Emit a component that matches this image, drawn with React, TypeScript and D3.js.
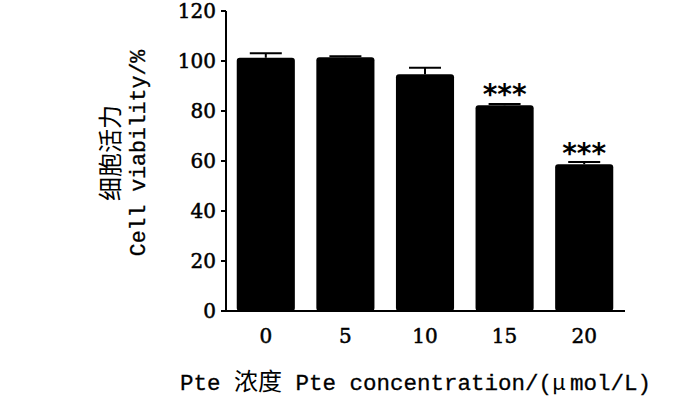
import { useMemo } from "react";
import * as d3 from "d3";

const WIDTH = 700;
const HEIGHT = 399;

const concentrations = ["0", "5", "10", "15", "20"];
const viability = [101.3, 101.5, 94.7, 82.3, 58.7];
const errors = [1.8, 0.4, 2.6, 0.5, 0.9];
const significance = ["", "", "", "***", "***"];
const yTicks = [0, 20, 40, 60, 80, 100, 120];

const MONO = "'Liberation Mono', 'DejaVu Sans Mono', monospace";
const SERIF = "'DejaVu Serif', serif";
const CJK = "'Noto Sans CJK SC', sans-serif";

const App = () => {
  const xScale = useMemo(
    () => d3.scaleBand().domain(concentrations).range([226, 624]).paddingInner(0.27).paddingOuter(0.135),
    []
  );
  const yScale = useMemo(() => d3.scaleLinear().domain([0, 120]).range([311, 11]), []);

  const bw = xScale.bandwidth();
  const capW = 32;

  return (
    <svg width={WIDTH} height={HEIGHT} style={{ position: "absolute", left: 0, top: 0 }}>
      <rect width={WIDTH} height={HEIGHT} fill="white" />

      {/* error bars */}
      {concentrations.map((c, i) => {
        const cx = xScale(c)! + bw / 2;
        const top = yScale(viability[i] + errors[i]);
        return (
          <g key={"e" + i} stroke="black" strokeWidth={2}>
            <line x1={cx} x2={cx} y1={yScale(viability[i])} y2={top} />
            <line x1={cx - capW / 2} x2={cx + capW / 2} y1={top} y2={top} />
          </g>
        );
      })}

      {/* bars */}
      {concentrations.map((c, i) => (
        <rect
          key={"b" + i}
          x={xScale(c)}
          y={yScale(viability[i])}
          width={bw}
          height={yScale(0) - yScale(viability[i])}
          rx={3}
          fill="black"
        />
      ))}

      {/* significance */}
      {concentrations.map((c, i) =>
        significance[i] ? (
          <text
            key={"s" + i}
            x={xScale(c)! + bw / 2}
            y={yScale(viability[i]) - 1}
            textAnchor="middle"
            fontFamily="'DejaVu Sans', sans-serif"
            fontWeight="bold"
            fontSize={28}
          >
            {significance[i]}
          </text>
        ) : null
      )}

      {/* axes */}
      <line x1={226} x2={226} y1={yScale(120)} y2={yScale(0) + 1} stroke="black" strokeWidth={2} />
      <line x1={225} x2={625} y1={yScale(0)} y2={yScale(0)} stroke="black" strokeWidth={2} />
      <g stroke="black" strokeWidth={0.5}>
        {yTicks.map((t) => (
          <g key={"t" + t}>
            <line x1={221} x2={226} y1={yScale(t)} y2={yScale(t)} strokeWidth={2} />
            <text x={216} y={yScale(t)} dy="0.36em" textAnchor="end" fontFamily={SERIF} fontSize={20}>
              {t}
            </text>
          </g>
        ))}
        {concentrations.map((c) => (
          <text key={"x" + c} x={xScale(c)! + bw / 2} y={343} textAnchor="middle" fontFamily={SERIF} fontSize={20}>
            {c}
          </text>
        ))}
      </g>

      {/* y title */}
      <g transform="translate(110,153) rotate(-90)">
        <text textAnchor="middle" dy="0.36em" fontFamily={CJK} fontSize={24}>
          细胞活力
        </text>
      </g>
      <g transform="translate(138,153) rotate(-90)">
        <text textAnchor="middle" dy="0.32em" fontFamily={MONO} fontSize={21.5} stroke="black" strokeWidth={0.3}>
          Cell viability/%
        </text>
      </g>

      {/* x title */}
      <text x={180} y={390} fontFamily={MONO} fontSize={22.5} stroke="black" strokeWidth={0.3}>
        <tspan>Pte </tspan>
        <tspan fontFamily={CJK} fontSize={24} strokeWidth={0}>浓度</tspan>
        <tspan> Pte concentration/(</tspan>
        <tspan fontFamily={CJK} fontSize={22} strokeWidth={0}>μ</tspan>
        <tspan dx={4}>mol/L)</tspan>
      </text>
    </svg>
  );
};

export default App;
